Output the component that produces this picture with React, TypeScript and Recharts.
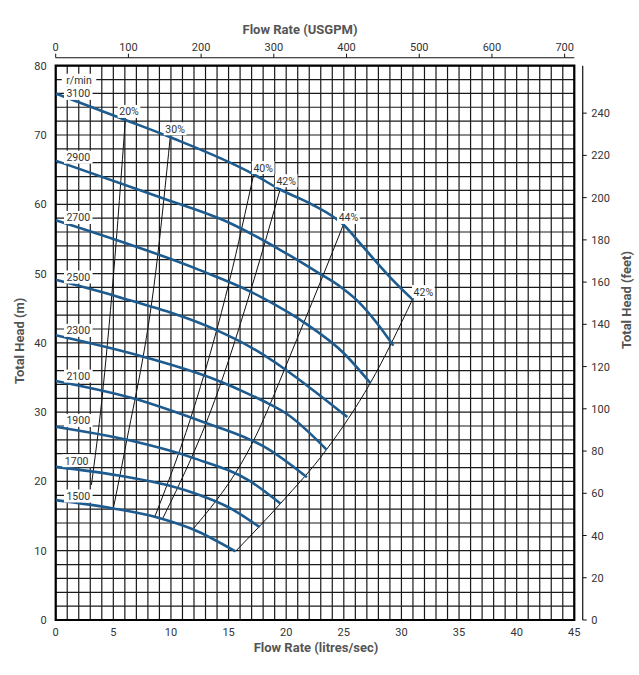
import React from "react";
import {
  ComposedChart,
  Line,
  Scatter,
  XAxis,
  YAxis,
  CartesianGrid,
  ReferenceLine,
  ReferenceArea,
  Label,
} from "recharts";

const FONT = "Roboto, 'DejaVu Sans', sans-serif";
const BLUE = "#1e5b8e";
const INK = "#333";
const TITLE = "#555";

// flow in l/s, head in m
const curve3100 = [[0, 76.0], [6.0, 72.2], [9.9, 69.7], [17.2, 64.3], [19.5, 62.1], [22.1, 60.1], [25.0, 57.0], [26.7, 53.8], [29.0, 49.5], [31.0, 46.2]];
const curve2900 = [[0, 66.3], [9.05, 61.0], [15.1, 57.3], [19.5, 53.4], [22.9, 50.0], [24.7, 48.1], [26.1, 46.2], [27.9, 42.8], [29.3, 39.6]];
const curve2700 = [[0, 57.7], [12.5, 50.5], [16.9, 47.4], [18.6, 45.9], [21.5, 43.0], [25.0, 38.5], [27.3, 34.2]];
const curve2500 = [[0, 49.1], [5.3, 46.7], [14.0, 41.8], [16.9, 39.4], [19.8, 36.3], [22.7, 32.7], [25.3, 29.3]];
const curve2300 = [[0, 41.1], [7.6, 38.0], [14.0, 34.6], [16.9, 32.5], [18.5, 31.2], [20.0, 29.8], [23.5, 24.6]];
const curve2100 = [[0, 34.5], [6.7, 32.0], [13.1, 28.4], [16.9, 26.0], [18.0, 25.1], [21.8, 20.6]];
const curve1900 = [[0, 27.9], [6.2, 26.0], [11.9, 23.4], [16.9, 20.0], [19.5, 16.8]];
const curve1700 = [[0, 22.1], [5.3, 20.9], [11.1, 18.8], [15.4, 15.9], [17.7, 13.4]];
const curve1500 = [[0, 17.3], [5.0, 16.1], [9.05, 14.7], [11.9, 13.1], [15.6, 9.9]];

const eff20 = [[3.1, 19.5], [4.0, 31.7], [5.0, 49.5], [6.05, 72.4]];
const eff30 = [[5.0, 16.1], [6.0, 24.5], [8.7, 50.5], [9.95, 69.9]];
const eff40 = [[8.6, 14.9], [12.2, 31.7], [15.1, 49.1], [17.2, 64.5]];
const eff42a = [[9.3, 14.7], [13.8, 31.7], [17.2, 49.1], [19.5, 62.3]];
const eff44 = [[11.9, 13.1], [16.9, 25.0], [20.9, 40.4], [25.0, 57.2]];
const eff42b = [[15.6, 9.9], [19.5, 16.8], [23.5, 24.6], [27.3, 34.2], [31.0, 46.4]];

const speedCurves = [curve3100, curve2900, curve2700, curve2500, curve2300, curve2100, curve1900, curve1700, curve1500];
const effCurves = [eff20, eff30, eff40, eff42a, eff44, eff42b];

const speedLabels = [
  { q: 2.02, h: 77.9, text: "r/min" },
  { q: 1.96, h: 76.0, text: "3100" },
  { q: 1.96, h: 66.8, text: "2900" },
  { q: 1.96, h: 58.1, text: "2700" },
  { q: 1.96, h: 49.5, text: "2500" },
  { q: 1.96, h: 41.8, text: "2300" },
  { q: 1.96, h: 35.2, text: "2100" },
  { q: 1.96, h: 28.8, text: "1900" },
  { q: 1.82, h: 23.0, text: "1700" },
  { q: 1.96, h: 17.9, text: "1500" },
];

const effLabels = [
  { q: 6.36, h: 73.4, text: "20%" },
  { q: 10.36, h: 70.9, text: "30%" },
  { q: 18.0, h: 65.3, text: "40%" },
  { q: 20.0, h: 63.4, text: "42%" },
  { q: 25.4, h: 58.1, text: "44%" },
  { q: 31.9, h: 47.4, text: "42%" },
];

const qGrid = Array.from({ length: 46 }, (_, i) => i);
const qLabels = [0, 5, 10, 15, 20, 25, 30, 35, 40, 45];
const hGrid = Array.from({ length: 41 }, (_, i) => i * 2);
const hLabels = [0, 10, 20, 30, 40, 50, 60, 70, 80];
const gpmTicks = [0, 100, 200, 300, 400, 500, 600, 700];
const ftTicks = [0, 20, 40, 60, 80, 100, 120, 140, 160, 180, 200, 220, 240];

const GPM_MAX = 45 * 15.8503;
const FT_MAX = 80 * 3.28084;

// invisible series so the USGPM axis has something bound to it
const gpmSpan = [{ g: 0, h: 0 }, { g: GPM_MAX, h: 0 }];

const toPts = (arr: number[][]) => arr.map(([q, h]) => ({ q, h }));

function BottomTick(props: any) {
  const { x, y, payload } = props;
  if (!qLabels.includes(payload.value)) return <g />;
  return (
    <text x={x} y={y + 16} textAnchor="middle" fontSize={11} fill={INK} fontFamily={FONT}>
      {payload.value}
    </text>
  );
}

function LeftTick(props: any) {
  const { x, y, payload } = props;
  if (!hLabels.includes(payload.value)) return <g />;
  return (
    <text x={x - 9} y={y + 4} textAnchor="end" fontSize={11} fill={INK} fontFamily={FONT}>
      {payload.value}
    </text>
  );
}

function TopTick(props: any) {
  const { x, y, payload } = props;
  return (
    <g>
      <line x1={x} x2={x} y1={y - 8} y2={y - 12} stroke="#111" strokeWidth={1} />
      <text x={x} y={y - 15} textAnchor="middle" fontSize={11} fill={INK} fontFamily={FONT}>
        {payload.value}
      </text>
    </g>
  );
}

function RightTick(props: any) {
  const { x, y, payload } = props;
  return (
    <g>
      <line x1={x + 8.4} x2={x + 12.4} y1={y} y2={y} stroke="#111" strokeWidth={1} />
      <text x={x + 17} y={y + 4} textAnchor="start" fontSize={11} fill={INK} fontFamily={FONT}>
        {payload.value}
      </text>
    </g>
  );
}

function BoxLabel(props: any) {
  const { cx, cy, payload } = props;
  if (cx == null || cy == null) return <g />;
  const w = payload.text.length * 5.9 + 5;
  return (
    <g>
      <rect x={cx - w / 2} y={cy - 6.5} width={w} height={13} fill="#fff" />
      <text x={cx} y={cy + 4} textAnchor="middle" fontSize={10.5} fill={INK} fontFamily={FONT}>
        {payload.text}
      </text>
    </g>
  );
}

const titleStyle = { fontSize: 13, fontWeight: 700, fill: TITLE, fontFamily: FONT };

export default function App() {
  return (
    <div style={{ position: "absolute", left: 0, top: 0, width: 639, height: 675, background: "#fff" }}>
      <ComposedChart width={639} height={675} margin={{ top: 25.7, right: 4.7, bottom: 15, left: 5.7 }}>
        <CartesianGrid xAxisId="q" yAxisId="m" stroke="#1a1a1a" strokeWidth={1.2} />
        <XAxis
          xAxisId="q"
          dataKey="q"
          type="number"
          domain={[0, 45]}
          ticks={qGrid}
          interval={0}
          height={40}
          axisLine={false}
          tickLine={false}
          tickSize={0}
          tickMargin={0}
          tick={BottomTick}
          allowDataOverflow
        >
          <Label
            content={(p: any) => {
              const vb = p.viewBox;
              return (
                <text x={vb.x + vb.width / 2 + 1} y={vb.y + 32} textAnchor="middle" style={titleStyle}>
                  Flow Rate (litres/sec)
                </text>
              );
            }}
          />
        </XAxis>
        <XAxis
          xAxisId="gpm"
          dataKey="g"
          orientation="top"
          type="number"
          domain={[0, GPM_MAX]}
          ticks={gpmTicks}
          interval={0}
          height={40}
          axisLine={false}
          tickLine={false}
          tickSize={0}
          tickMargin={0}
          tick={TopTick}
          allowDataOverflow
        >
          <Label
            content={(p: any) => {
              const vb = p.viewBox;
              return (
                <text x={vb.x + vb.width / 2 - 15} y={vb.y + 8} textAnchor="middle" style={titleStyle}>
                  Flow Rate (USGPM)
                </text>
              );
            }}
          />
        </XAxis>
        <YAxis
          yAxisId="m"
          dataKey="h"
          type="number"
          domain={[0, 80]}
          ticks={hGrid}
          interval={0}
          width={50}
          axisLine={false}
          tickLine={false}
          tickSize={0}
          tickMargin={0}
          tick={LeftTick}
          allowDataOverflow
        >
          <Label
            content={(p: any) => {
              const vb = p.viewBox;
              const cx = vb.x + 14;
              const cy = vb.y + vb.height / 2 - 2;
              return (
                <text x={cx} y={cy} transform={`rotate(-90 ${cx} ${cy})`} textAnchor="middle" dominantBaseline="central" style={titleStyle}>
                  Total Head (m)
                </text>
              );
            }}
          />
        </YAxis>
        <YAxis
          yAxisId="ft"
          orientation="right"
          type="number"
          domain={[0, FT_MAX]}
          ticks={ftTicks}
          interval={0}
          width={60}
          axisLine={false}
          tickLine={false}
          tickSize={0}
          tickMargin={0}
          tick={RightTick}
          allowDataOverflow
        >
          <Label
            content={(p: any) => {
              const vb = p.viewBox;
              const cx = vb.x + 52;
              const cy = 300;
              return (
                <text x={cx} y={cy} transform={`rotate(-90 ${cx} ${cy})`} textAnchor="middle" dominantBaseline="central" style={titleStyle}>
                  Total Head (feet)
                </text>
              );
            }}
          />
        </YAxis>

        <ReferenceArea xAxisId="q" yAxisId="m" x1={0} x2={45} y1={0} y2={80} fill="none" stroke="#000" strokeWidth={2.2} ifOverflow="visible" />
        <ReferenceLine
          xAxisId="q"
          yAxisId="m"
          segment={[{ x: 0, y: 81.15 }, { x: 45, y: 81.15 }]}
          stroke="#111"
          strokeWidth={1.2}
          ifOverflow="visible"
        />
        <ReferenceLine
          xAxisId="q"
          yAxisId="m"
          segment={[{ x: 45.73, y: 0 }, { x: 45.73, y: 80 }]}
          stroke="#111"
          strokeWidth={1.2}
          ifOverflow="visible"
        />

        <Line
          xAxisId="gpm"
          yAxisId="m"
          data={gpmSpan}
          dataKey="h"
          stroke="none"
          dot={false}
          activeDot={false}
          isAnimationActive={false}
        />
        {effCurves.map((c, i) => (
          <Line
            key={`e${i}`}
            xAxisId="q"
            yAxisId="m"
            data={toPts(c)}
            dataKey="h"
            type="monotone"
            stroke="#111"
            strokeWidth={1}
            dot={false}
            activeDot={false}
            isAnimationActive={false}
          />
        ))}
        {speedCurves.map((c, i) => (
          <Line
            key={`s${i}`}
            xAxisId="q"
            yAxisId="m"
            data={toPts(c)}
            dataKey="h"
            type="monotone"
            stroke={BLUE}
            strokeWidth={2.6}
            dot={false}
            activeDot={false}
            isAnimationActive={false}
          />
        ))}
        <Scatter xAxisId="q" yAxisId="m" data={speedLabels} dataKey="h" shape={BoxLabel} isAnimationActive={false} />
        <Scatter xAxisId="q" yAxisId="m" data={effLabels} dataKey="h" shape={BoxLabel} isAnimationActive={false} />
      </ComposedChart>
    </div>
  );
}
